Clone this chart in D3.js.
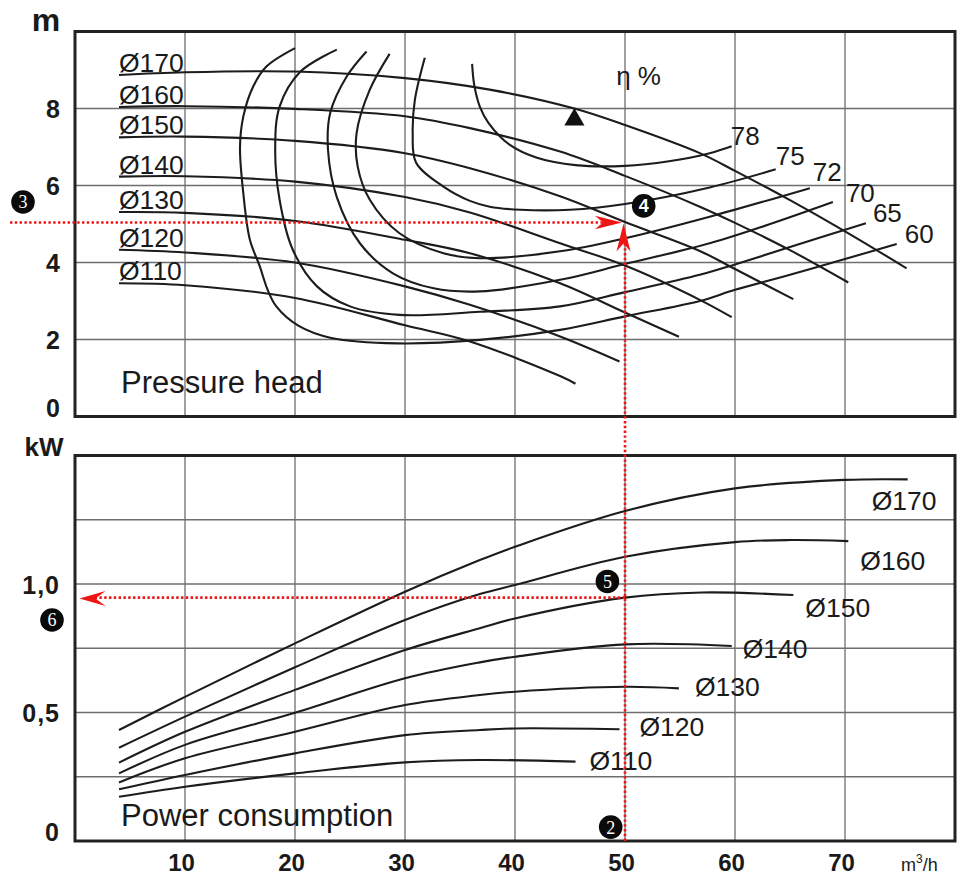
<!DOCTYPE html>
<html>
<head>
<meta charset="utf-8">
<script src="https://cdn.jsdelivr.net/npm/d3@7"></script>
<style>
  body { margin: 0; background: #fff; }
  text { font-family: "Liberation Sans", Arial, Helvetica, sans-serif; fill: #1a1a1a; }
</style>
</head>
<body>
<div id="chart"></div>
<script>
// ---- data ----
var flowTicks = [10, 20, 30, 40, 50, 60, 70];
var headTicks = [0, 2, 4, 6, 8];
var powerTicks = [0, 0.5, 1.0];
var headGrid = [2, 4, 6, 8];
var powerGrid = [0.25, 0.5, 0.75, 1.0, 1.25];

var impellers = ["Ø170", "Ø160", "Ø150", "Ø140", "Ø130", "Ø120", "Ø110"];

// pressure head [m3/h, m]
var head170 = [[4,8.87],[10,8.94],[20,8.96],[30,8.79],[37.7,8.49],[45.4,8.0],[50,7.57],[56.8,6.84],[60,6.38],[65,5.62],[70,4.81],[75.6,3.85]];
var head160 = [[4,8.04],[10,8.06],[20,7.99],[30,7.8],[35.9,7.49],[44.1,6.88],[50,6.25],[56.8,5.45],[60,5.03],[65,4.32],[70.3,3.48]];
var head150 = [[4,7.25],[10,7.27],[20,7.16],[30,6.84],[35.9,6.45],[44.1,5.72],[50,5.05],[56.8,4.3],[60,3.83],[65.3,3.05]];
var head140 = [[4,6.23],[10,6.24],[20,6.1],[30,5.7],[35.9,5.3],[44.1,4.5],[50,3.92],[56.8,3.03],[59.7,2.58]];
var head130 = [[4,5.31],[10,5.29],[20,5.08],[30,4.59],[35.9,4.24],[44.1,3.46],[50,2.7],[54.9,2.07]];
var head120 = [[4,4.33],[10,4.26],[20,4.0],[30,3.38],[35.9,2.9],[44.1,2.08],[49.5,1.43]];
var head110 = [[4,3.46],[10,3.41],[20,3.08],[30,2.37],[35.9,1.95],[44.1,1.05],[45.5,0.85]];

// power consumption [m3/h, kW]
var power170 = [[4,0.432],[10,0.561],[20,0.769],[30,0.970],[36.8,1.093],[40,1.145],[50,1.284],[60,1.372],[70,1.405],[75.7,1.407]];
var power160 = [[4,0.363],[10,0.484],[20,0.676],[30,0.860],[36.8,0.961],[40,0.996],[50,1.106],[60,1.163],[65,1.171],[70.3,1.167]];
var power150 = [[4,0.305],[10,0.425],[20,0.588],[30,0.743],[36.8,0.828],[40,0.866],[50,0.947],[57,0.967],[65.3,0.957]];
var power140 = [[4,0.263],[10,0.374],[20,0.499],[30,0.633],[36.8,0.695],[40,0.717],[50,0.765],[59.7,0.759]];
var power130 = [[4,0.228],[10,0.322],[20,0.425],[30,0.529],[36.8,0.568],[40,0.581],[50,0.600],[54.9,0.594]];
var power120 = [[4,0.201],[10,0.257],[20,0.341],[30,0.412],[36.8,0.432],[40,0.438],[49.5,0.435]];
var power110 = [[4,0.172],[10,0.211],[20,0.263],[30,0.306],[36.8,0.315],[45.5,0.309]];

// efficiency contours [m3/h, m]
var effNames = ["78", "75", "72", "70", "65", "60"];
var eff78 = [[36.1,9.16],[36.3,8.6],[36.8,8.05],[37.6,7.62],[39.5,7.06],[42,6.72],[45.5,6.53],[50,6.51],[54,6.63],[57.7,6.84],[59.7,7.02]];
var eff75 = [[31.8,9.32],[30.9,8.23],[30.7,7.36],[31.0,6.6],[33.5,5.97],[35.9,5.6],[37.7,5.45],[40.5,5.37],[45,5.37],[50,5.52],[57.7,5.95],[63.7,6.42]];
var eff72 = [[28.6,9.42],[26.8,8.49],[25.6,7.36],[25.7,6.49],[26.8,5.63],[29.5,4.76],[33.5,4.24],[36.8,4.11],[44.1,4.29],[50,4.63],[57.7,5.19],[66.8,5.93]];
var eff70 = [[26.5,9.48],[24.7,8.83],[23.2,7.88],[23.0,6.93],[23.8,5.7],[25.9,4.5],[28.9,3.72],[32.6,3.33],[36.8,3.25],[44.1,3.55],[50,3.96],[57.7,4.5],[63,4.98],[68.9,5.57]];
var eff65 = [[23.8,9.53],[20.5,8.96],[18.6,8.05],[18.2,6.93],[18.6,5.63],[19.8,4.33],[22,3.38],[25,2.86],[29.5,2.64],[36.8,2.72],[44.1,2.86],[50,3.23],[56.8,3.68],[60,3.95],[65,4.4],[71.9,5.02]];
var eff60 = [[20,9.57],[17.4,9.09],[16.2,8.57],[15.3,7.79],[15.0,7.0],[15.3,5.8],[15.9,4.59],[16.8,3.9],[17.5,3.3],[18.3,2.86],[20.3,2.36],[23.3,2.04],[29.3,1.9],[36.8,1.99],[44.1,2.25],[50,2.6],[56.8,3.0],[60,3.29],[65,3.68],[70,4.09],[74.7,4.48]];

// duty point used for the worked example
var dutyFlow = 50, dutyHead = 5.04, dutyPower = 0.947;
var bestPoint = [45.4, 7.71];

var headCurves = [head170, head160, head150, head140, head130, head120, head110];
var powerCurves = [power170, power160, power150, power140, power130, power120, power110];
var effCurves = [eff78, eff75, eff72, eff70, eff65, eff60];

// ---- layout ----
var svg = d3.select("#chart").append("svg")
    .attr("width", 962)
    .attr("height", 876);

var x = d3.scaleLinear().domain([0, 80]).range([75, 955]);
var yH = d3.scaleLinear().domain([0, 10]).range([416.5, 31.5]);
var yP = d3.scaleLinear().domain([0, 1.5]).range([841, 455.5]);

var ink = "#1c1c1c", red = "#ee1515";
var powerLabelOff = [[-36, 31], [12, 29], [12, 22], [11, 12], [16, 8], [20, 7], [14, 8]];
var effLabelOff = [[-1, -1], [0, -4], [3, -7], [13, 0], [7, -1], [8, -1]];

function panel(yScale, gridVals) {
  var g = svg.append("g");
  g.selectAll(".vg").data(flowTicks).enter().append("line")
      .attr("x1", d => x(d)).attr("x2", d => x(d))
      .attr("y1", yScale.range()[0]).attr("y2", yScale.range()[1])
      .attr("stroke", "#6e6e6e").attr("stroke-width", 1.3);
  g.selectAll(".hg").data(gridVals).enter().append("line")
      .attr("x1", x(0)).attr("x2", x(80))
      .attr("y1", d => yScale(d)).attr("y2", d => yScale(d))
      .attr("stroke", "#6e6e6e").attr("stroke-width", 1.3);
  return g;
}

panel(yH, headGrid);
panel(yP, powerGrid);

var curve = d3.line()
    .x(d => x(d[0]))
    .curve(d3.curveCatmullRom.alpha(0.5));

// pressure head curves
svg.append("g").selectAll("path")
    .data(headCurves)
  .enter().append("path")
    .attr("fill", "none").attr("stroke", ink).attr("stroke-width", 2.1)
    .attr("d", d => curve.y(p => yH(p[1]))(d));

svg.append("g").selectAll("text")
    .data(headCurves)
  .enter().append("text")
    .attr("x", d => x(d[0][0]))
    .attr("y", d => yH(d[0][1]) - 3)
    .attr("font-size", 26.5)
    .text((d, i) => impellers[i]);

// efficiency contours
svg.append("g").selectAll("path")
    .data(effCurves)
  .enter().append("path")
    .attr("fill", "none").attr("stroke", ink).attr("stroke-width", 2.1)
    .attr("d", d => curve.y(p => yH(p[1]))(d));

svg.append("g").selectAll("text")
    .data(effCurves)
  .enter().append("text")
    .attr("x", (d, i) => x(d[d.length - 1][0]) + effLabelOff[i][0])
    .attr("y", (d, i) => yH(d[d.length - 1][1]) + effLabelOff[i][1])
    .attr("font-size", 26)
    .text((d, i) => effNames[i]);

svg.append("text")
    .attr("x", x(49.2)).attr("y", yH(8.62))
    .attr("font-size", 26)
    .text("η %");

svg.append("path")
    .attr("transform", "translate(" + x(bestPoint[0]) + "," + yH(bestPoint[1]) + ")")
    .attr("d", d3.symbol().type(d3.symbolTriangle).size(175)())
    .attr("fill", "#111");

// power curves
svg.append("g").selectAll("path")
    .data(powerCurves)
  .enter().append("path")
    .attr("fill", "none").attr("stroke", ink).attr("stroke-width", 2.1)
    .attr("d", d => curve.y(p => yP(p[1]))(d));

svg.append("g").selectAll("text")
    .data(powerCurves)
  .enter().append("text")
    .attr("x", (d, i) => x(d[d.length - 1][0]) + powerLabelOff[i][0])
    .attr("y", (d, i) => yP(d[d.length - 1][1]) + powerLabelOff[i][1])
    .attr("font-size", 26.5)
    .text((d, i) => impellers[i]);

svg.append("text").attr("x", 121).attr("y", 393).attr("font-size", 31).text("Pressure head");
svg.append("text").attr("x", 121).attr("y", 826).attr("font-size", 31).text("Power consumption");

// frames
[yH, yP].forEach(function(s) {
  svg.append("rect")
      .attr("x", x(0)).attr("y", s.range()[1])
      .attr("width", x(80) - x(0)).attr("height", s.range()[0] - s.range()[1])
      .attr("fill", "none").attr("stroke", "#222").attr("stroke-width", 3);
});

// axes
function styleAxis(g) {
  g.select(".domain").remove();
  g.selectAll("text")
      .attr("font-size", 25).attr("font-weight", "bold")
      .style("font-family", "'Liberation Sans', Arial, sans-serif").attr("fill", "#1a1a1a");
}

svg.append("g")
    .attr("transform", "translate(" + x(0) + ",0)")
    .call(d3.axisLeft(yH).tickValues(headTicks).tickSize(0).tickPadding(15))
    .call(styleAxis)
    .selectAll("text").attr("dy", d => d === 0 ? "-0.02em" : "0.36em");

svg.append("g")
    .attr("transform", "translate(" + x(0) + ",0)")
    .call(d3.axisLeft(yP).tickValues(powerTicks).tickSize(0).tickPadding(15)
      .tickFormat(d => d === 0 ? "0" : d3.format(".1f")(d).replace(".", ",")))
    .call(styleAxis)
    .selectAll("text").attr("dy", d => d === 0 ? "-0.04em" : "0.36em")
    .attr("letter-spacing", 1);

svg.append("g")
    .attr("transform", "translate(0," + yP(0) + ")")
    .call(d3.axisBottom(x).tickValues(flowTicks).tickSize(0).tickPadding(13).tickFormat(d3.format("d")))
    .call(styleAxis)
    .selectAll("text").attr("dx", -4).attr("font-size", 24);

svg.append("text").attr("x", 46).attr("y", 31).attr("text-anchor", "middle")
    .attr("font-size", 32).attr("font-weight", "bold").text("m");
svg.append("text").attr("x", 44).attr("y", 456).attr("text-anchor", "middle")
    .attr("font-size", 26).attr("font-weight", "bold").text("kW");

var unit = svg.append("text").attr("x", 901).attr("y", 871).attr("font-size", 18);
unit.append("tspan").text("m");
unit.append("tspan").attr("dy", -8).attr("font-size", 12).text("3");
unit.append("tspan").attr("dy", 8).text("/h");

// worked example: red dotted read-off lines with arrow heads
function arrowPath(tx, ty, dx, dy, len, notch, half) {
  var px = -dy, py = dx;
  return "M" + tx + "," + ty +
    "L" + (tx - dx * len + px * half) + "," + (ty - dy * len + py * half) +
    "L" + (tx - dx * notch) + "," + (ty - dy * notch) +
    "L" + (tx - dx * len - px * half) + "," + (ty - dy * len - py * half) + "Z";
}

var ann = svg.append("g");
var qx = x(dutyFlow), hy = yH(dutyHead), py = yP(dutyPower);

ann.append("line").attr("x1", 10).attr("x2", qx - 20).attr("y1", hy).attr("y2", hy);
ann.append("line").attr("x1", qx).attr("x2", qx).attr("y1", yP(0)).attr("y2", hy + 20);
ann.append("line").attr("x1", qx).attr("x2", x(0) + 20).attr("y1", py).attr("y2", py);
ann.selectAll("line")
    .attr("stroke", red).attr("stroke-width", 2.6).attr("stroke-dasharray", "2.4,2.4");

ann.append("path").attr("d", arrowPath(qx - 3, hy, 1, 0, 27, 19, 6.8)).attr("fill", red);
ann.append("path").attr("d", arrowPath(qx - 1.5, hy + 1, 0, -1, 28, 20, 7)).attr("fill", red);
ann.append("path").attr("d", arrowPath(x(0) + 4.5, py + 1, -1, 0, 26, 16, 7.5)).attr("fill", red);

// numbered call-outs
var marks = [
  {n: "3", cx: 23, cy: 202},
  {n: "4", cx: x(51.7), cy: yH(5.47)},
  {n: "5", cx: x(48.4), cy: yP(1.01)},
  {n: "2", cx: x(48.7), cy: yP(0.054)},
  {n: "6", cx: 52, cy: 620}
];
var mk = svg.append("g").selectAll("g").data(marks).enter().append("g")
    .attr("transform", d => "translate(" + d.cx + "," + d.cy + ")");
mk.append("circle").attr("r", 11.8).attr("fill", "#0a0a0a");
mk.append("text")
    .attr("text-anchor", "middle").attr("dy", "0.36em")
    .attr("font-size", 18)
    .attr("font-weight", d => d.n === "4" ? "bold" : "normal")
    .style("font-family", d => d.n === "4" ? "'Liberation Sans', sans-serif" : "'Liberation Serif', 'DejaVu Serif', serif")
    .style("fill", "#fff")
    .text(d => d.n);
</script>
</body>
</html>
